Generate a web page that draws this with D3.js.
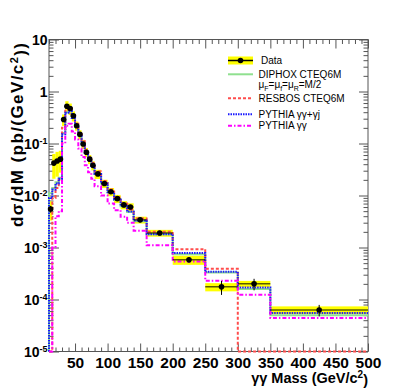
<!DOCTYPE html>
<html>
<head>
<meta charset="utf-8">
<script src="https://d3js.org/d3.v7.min.js"></script>
<style>
  body { margin: 0; background: #fff; }
  text { font-family: "Liberation Sans", Arial, sans-serif; }
</style>
</head>
<body>
<div id="chart"></div>
<script>
// bin edges in GeV/c^2
var edges = [10,15,20,25,30,35,40,45,50,55,60,65,70,75,80,90,100,110,120,130,140,160,200,250,300,350,500];

// measured cross section (pb/(GeV/c^2)) and relative errors
var dataVals = [0.0055,0.042,0.046,0.05,0.29,0.52,0.47,0.34,0.22,0.15,0.098,0.068,0.05,0.038,0.026,0.017,0.0118,0.0087,0.0066,0.006,0.0034,0.0019,0.00058,0.000175,0.0002,0.000063];
var sysErr   = [0.4,0.5,0.5,0.45,0.25,0.25,0.25,0.22,0.2,0.2,0.2,0.2,0.2,0.2,0.2,0.18,0.18,0.18,0.18,0.18,0.15,0.15,0.2,0.18,0.14,0.17];
var statErr  = [0.15,0.08,0.08,0.08,0.04,0.03,0.03,0.03,0.04,0.04,0.05,0.05,0.06,0.06,0.06,0.07,0.08,0.09,0.1,0.1,0.1,0.1,0.12,0.3,0.25,0.25];

// predictions
var diphox   = [0.011,0.014,0.018,0.022,0.16,0.40,0.42,0.31,0.21,0.14,0.095,0.066,0.048,0.037,0.026,0.017,0.0115,0.0083,0.0062,0.0048,0.0032,0.0018,0.00074,0.00033,0.00016,0.00005];
var resbos   = [0,0.009,0.014,0.02,0.2,0.45,0.47,0.35,0.24,0.16,0.11,0.075,0.055,0.042,0.029,0.019,0.013,0.0093,0.007,0.0054,0.0036,0.002,0.00093,0.00039,0,0];
var pythiaGJ = [0.009,0.013,0.017,0.021,0.15,0.39,0.42,0.31,0.21,0.14,0.095,0.066,0.048,0.037,0.026,0.017,0.0116,0.0084,0.0063,0.0049,0.0033,0.0018,0.00078,0.00034,0.00017,0.000055];
var pythiaGG = [0,0.001,0.004,0.005,0.1,0.22,0.24,0.17,0.12,0.08,0.055,0.038,0.028,0.021,0.015,0.01,0.007,0.0052,0.0039,0.003,0.0021,0.0011,0.00054,0.00023,0.000124,0.000044];

var xTicks = [50,100,150,200,250,300,350,400,450,500];
var yDecades = [1e-5,1e-4,1e-3,1e-2,1e-1,1,10];

var W = 409, H = 392;
var pL = 49, pR = 368, pT = 39.5, pB = 351.5;

var svg = d3.select("#chart").append("svg")
  .attr("width", W).attr("height", H);
svg.append("rect").attr("width", W).attr("height", H).attr("fill", "#fff");

var x = d3.scaleLinear().domain([10, 500]).range([pL, pR]);
var y = d3.scaleLog().domain([1e-5, 10]).range([pB, pT]).clamp(true);
function yv(v) { return y(Math.max(v, 1e-5)); }

// minor ticks
var yMinor = [];
yDecades.slice(0, -1).forEach(function(d) { for (var k = 2; k < 10; k++) yMinor.push(d * k); });
var xMinor = d3.range(10, 501, 10).filter(function(v) { return v % 50 != 0; });

function tickAxis(axis, tr) {
  var g = svg.append("g").attr("transform", tr).call(axis);
  g.select(".domain").remove();
  g.selectAll("line").attr("stroke", "#555");
  return g;
}
tickAxis(d3.axisLeft(y).tickValues(yMinor).tickSize(-4.5).tickFormat(""), "translate(" + pL + ",0)");
tickAxis(d3.axisRight(y).tickValues(yMinor).tickSize(-4.5).tickFormat(""), "translate(" + pR + ",0)");
tickAxis(d3.axisRight(y).tickValues(yDecades).tickSize(-9).tickFormat(""), "translate(" + pR + ",0)");
tickAxis(d3.axisBottom(x).tickValues(xMinor).tickSize(-4).tickFormat(""), "translate(0," + pB + ")");
tickAxis(d3.axisTop(x).tickValues(xMinor).tickSize(-4.5).tickFormat(""), "translate(0," + pT + ")");
tickAxis(d3.axisTop(x).tickValues(xTicks).tickSize(-9).tickFormat(""), "translate(0," + pT + ")");

var yAx = tickAxis(d3.axisLeft(y).tickValues(yDecades).tickSize(-10).tickPadding(1.5).tickFormat(""), "translate(" + pL + ",0)");
yAx.selectAll(".tick text").each(function(d) {
  var e = Math.round(Math.log10(d));
  var t = d3.select(this).attr("fill", "#000").attr("font-size", 14).attr("font-weight", "bold")
    .attr("dy", "0.36em");
  if (e === 0) t.text("1");
  else if (e === 1) t.text("10");
  else {
    t.text("10");
    t.append("tspan").attr("dy", "-0.55em").attr("font-size", 9).text(e);
  }
});

var xAx = tickAxis(d3.axisBottom(x).tickValues(xTicks).tickSize(-8).tickPadding(5), "translate(0," + pB + ")");
xAx.selectAll(".tick text").attr("fill", "#000").attr("font-size", 15.5).attr("font-weight", "bold");

// frame
svg.append("rect").attr("x", pL).attr("y", pT).attr("width", pR - pL).attr("height", pB - pT)
  .attr("fill", "none").attr("stroke", "#555").attr("stroke-width", 1);

var plot = svg.append("g");
var nb = dataVals.length;
var bins = d3.range(nb).map(function(i) {
  return {x0: edges[i], x1: edges[i + 1], v: dataVals[i], sys: sysErr[i], stat: statErr[i]};
});

// systematic bands
plot.selectAll("rect.sys").data(bins).enter().append("rect")
  .attr("x", function(d) { return x(d.x0); })
  .attr("width", function(d) { return x(d.x1) - x(d.x0); })
  .attr("y", function(d) { return yv(d.v * (1 + d.sys)); })
  .attr("height", function(d) { return yv(d.v * (1 - d.sys)) - yv(d.v * (1 + d.sys)); })
  .attr("fill", "#ffff00");

// theory histograms
function histLine(vals) {
  var pts = [[edges[0], 0]];
  vals.forEach(function(v, i) { pts.push([edges[i], v]); });
  pts.push([edges[edges.length - 1], vals[vals.length - 1]]);
  return d3.line().x(function(p) { return x(p[0]); }).y(function(p) { return yv(p[1]); })
    .curve(d3.curveStepAfter)(pts);
}
var series = [
  {vals: diphox, color: "#8fe08f", dash: null},
  {vals: resbos, color: "#ff4d4d", dash: "3,2"},
  {vals: pythiaGJ, color: "#1a1aff", dash: "1.5,1"},
  {vals: pythiaGG, color: "#ff00ff", dash: "4,2,1.5,2"}
];
series.forEach(function(s) {
  plot.append("path").attr("d", histLine(s.vals)).attr("fill", "none")
    .attr("stroke", s.color).attr("stroke-width", 2).attr("stroke-dasharray", s.dash);
});

// data: bin line, stat error, marker
plot.selectAll("line.bw").data(bins).enter().append("line")
  .attr("x1", function(d) { return x(d.x0); }).attr("x2", function(d) { return x(d.x1); })
  .attr("y1", function(d) { return yv(d.v); }).attr("y2", function(d) { return yv(d.v); })
  .attr("stroke", "#000").attr("stroke-opacity", 0.65).attr("stroke-width", 1.5);
plot.selectAll("line.err").data(bins).enter().append("line")
  .attr("x1", function(d) { return x((d.x0 + d.x1) / 2); }).attr("x2", function(d) { return x((d.x0 + d.x1) / 2); })
  .attr("y1", function(d) { return yv(d.v * (1 + d.stat)); }).attr("y2", function(d) { return yv(d.v * (1 - d.stat)); })
  .attr("stroke", "#000").attr("stroke-width", 1);
plot.selectAll("circle").data(bins).enter().append("circle")
  .attr("cx", function(d) { return x((d.x0 + d.x1) / 2); })
  .attr("cy", function(d) { return yv(d.v); })
  .attr("r", 2.8).attr("fill", "#000");

// legend
var lg = svg.append("g");
var lx0 = 228, lx1 = 253;
lg.append("rect").attr("x", lx0).attr("y", 56.5).attr("width", lx1 - lx0).attr("height", 8).attr("fill", "#ffff00");
lg.append("line").attr("x1", lx0).attr("x2", lx1).attr("y1", 60.5).attr("y2", 60.5).attr("stroke", "#000").attr("stroke-width", 1.5);
lg.append("circle").attr("cx", (lx0 + lx1) / 2).attr("cy", 60.5).attr("r", 2.8).attr("fill", "#000");
lg.append("text").attr("x", 261).attr("y", 64).attr("font-size", 10).text("Data");

var legRows = [
  {s: series[0], ly: 74.3, label: "DIPHOX CTEQ6M"},
  {s: series[1], ly: 98.3, label: "RESBOS CTEQ6M"},
  {s: series[2], ly: 114.3, label: "PYTHIA γγ+γj"},
  {s: series[3], ly: 125.7, label: "PYTHIA γγ"}
];
legRows.forEach(function(r) {
  lg.append("line").attr("x1", lx0).attr("x2", lx1).attr("y1", r.ly).attr("y2", r.ly)
    .attr("stroke", r.s.color).attr("stroke-width", 2).attr("stroke-dasharray", r.s.dash);
  lg.append("text").attr("x", 258.5).attr("y", r.ly + 3.6).attr("font-size", 10).text(r.label);
});
var mu = lg.append("text").attr("x", 258.5).attr("y", 88).attr("font-size", 10);
var muParts = [["μ", "F"], ["=μ", "f"], ["=μ", "R"]];
muParts.forEach(function(p, i) {
  mu.append("tspan").attr("dy", i ? -2.5 : 0).text(p[0]);
  mu.append("tspan").attr("dy", 2.5).attr("font-size", 7).text(p[1]);
});
mu.append("tspan").attr("dy", -2.5).text("=M/2");

// axis titles
var yt = svg.append("text").attr("transform", "translate(23,227) rotate(-90)")
  .attr("font-size", 17).attr("font-weight", "bold").attr("fill", "#000")
  .attr("textLength", 184).attr("lengthAdjust", "spacing");
yt.append("tspan").text("dσ/dM (pb/(GeV/c");
yt.append("tspan").attr("dy", "-0.5em").attr("font-size", 11).text("2");
yt.append("tspan").attr("dy", "0.5em").text("))");

var xt = svg.append("text").attr("x", 368).attr("y", 383).attr("text-anchor", "end")
  .attr("font-size", 14.5).attr("font-weight", "bold").attr("fill", "#000");
xt.append("tspan").text("γγ Mass (GeV/c");
xt.append("tspan").attr("dy", "-0.5em").attr("font-size", 10).text("2");
xt.append("tspan").attr("dy", "0.5em").text(")");
</script>
</body>
</html>
